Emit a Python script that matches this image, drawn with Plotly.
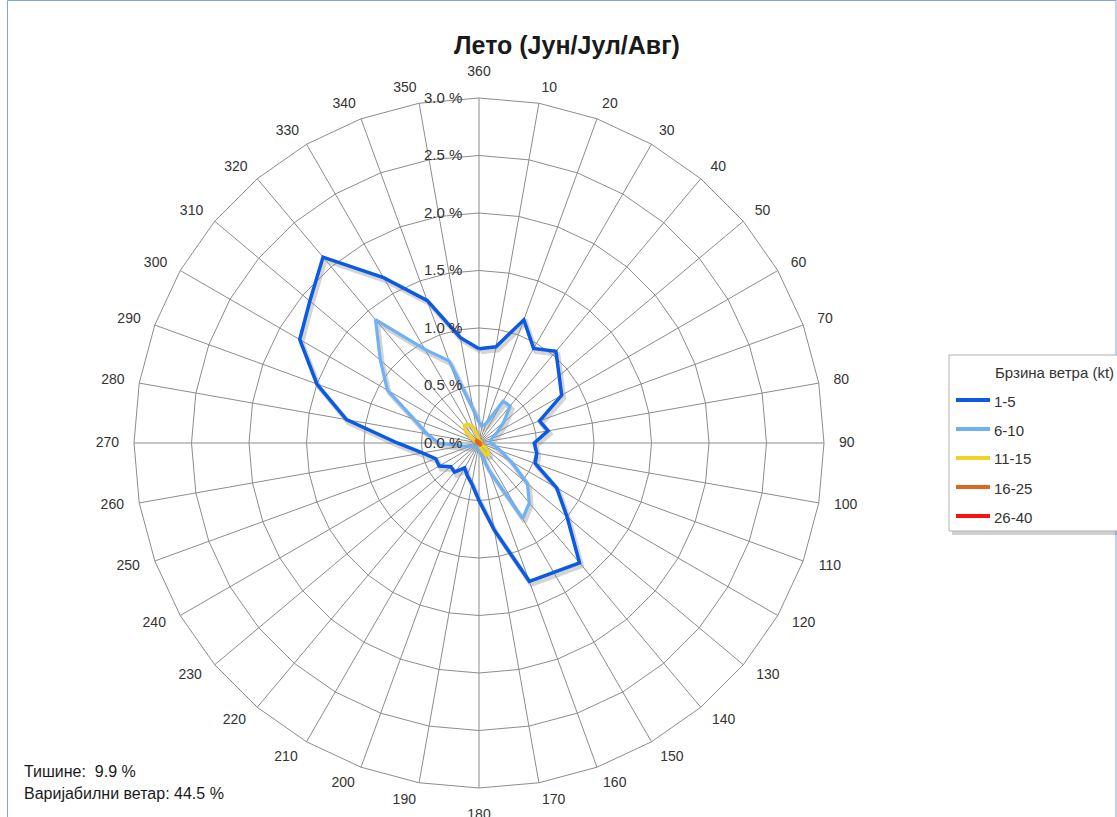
import math
import plotly.graph_objects as go

# ---------------- data ----------------
directions = ['360'] + [str(d) for d in range(10, 360, 10)]

speed_1_5 = [0.82, 0.85, 1.14, 0.95, 1.04, 0.91, 0.83, 0.56, 0.61, 0.48,
             0.51, 0.52, 0.78, 1.00, 1.36, 1.30, 1.28, 0.77, 0.50, 0.36,
             0.30, 0.25, 0.33, 0.32, 0.40, 0.40, 0.50, 0.71, 1.17, 1.50,
             1.80, 1.92, 2.11, 1.66, 1.32, 0.93]
speed_6_10 = [0.18, 0.15, 0.18, 0.42, 0.42, 0.28, 0.18, 0.12, 0.10, 0.10,
              0.14, 0.20, 0.32, 0.55, 0.68, 0.76, 0.25, 0.10, 0.06, 0.05,
              0.05, 0.05, 0.04, 0.05, 0.06, 0.08, 0.15, 0.35, 0.46, 0.60,
              0.92, 1.12, 1.40, 0.94, 0.76, 0.30]
speed_11_15 = [0.03, 0.02, 0.02, 0.02, 0.02, 0.02, 0.01, 0.01, 0.01, 0.01,
               0.01, 0.02, 0.04, 0.10, 0.13, 0.12, 0.05, 0.02, 0.01, 0.01,
               0.01, 0.01, 0.01, 0.01, 0.01, 0.01, 0.01, 0.01, 0.02, 0.03,
               0.06, 0.15, 0.20, 0.19, 0.15, 0.05]
speed_16_25 = [0.01, 0.01, 0.01, 0.01, 0.01, 0.01, 0.01, 0.01, 0.01, 0.01,
               0.01, 0.01, 0.01, 0.02, 0.02, 0.02, 0.01, 0.01, 0.01, 0.01,
               0.01, 0.01, 0.01, 0.01, 0.01, 0.01, 0.01, 0.01, 0.01, 0.02,
               0.02, 0.03, 0.03, 0.02, 0.01, 0.01]
speed_26_40 = [0.0] * 36

series_names = ['1-5', '6-10', '11-15', '16-25', '26-40']
series_values = [speed_1_5, speed_6_10, speed_11_15, speed_16_25, speed_26_40]
series_colors = ['#0A5AE6', '#6EB1F7', '#F0D326', '#E0661E', '#FF1010']
series_widths = [3.5, 3.2, 3.2, 3.2, 3.2]

radial_ticks = [0, 0.5, 1.0, 1.5, 2.0, 2.5, 3.0]
radial_labels = ['0.0 %', '0.5 %', '1.0 %', '1.5 %', '2.0 %', '2.5 %', '3.0 %']

title_text = 'Лето (Јун/Јул/Авг)'
legend_title = 'Брзина ветра (kt)'
note_calm = 'Тишине:  9.9 %'
note_var = 'Варијабилни ветар: 44.5 %'

# ---------------- layout geometry ----------------
W, H = 1117, 817
cx, cy, R = 479, 443, 345
RMAX = 3.0
R_LAB = 374                      # radius of the (invisible) label ring subplot
RMAX_LAB = RMAX * R_LAB / R
FONT = 'Liberation Sans'
TXT = '#333333'
LAB_SIZE = 14


def px(x):
    return x / W


def py(y):
    return 1 - y / H


fig = go.Figure()

closed_theta = directions + [directions[0]]

# soft drop shadows (offset subplot, drawn first)
for name, vals, w in zip(series_names, series_values, series_widths):
    fig.add_trace(go.Scatterpolar(
        r=vals + [vals[0]], theta=closed_theta, mode='lines',
        line=dict(color='rgba(60,60,60,0.22)', width=w + 1.5),
        subplot='polar', showlegend=False, hoverinfo='skip'))

# main series
for name, vals, col, w in zip(series_names, series_values, series_colors, series_widths):
    fig.add_trace(go.Scatterpolar(
        r=vals + [vals[0]], theta=closed_theta, mode='lines', name=name,
        line=dict(color=col, width=w), subplot='polar2', showlegend=False))

# direction labels around the rim, placed like the spreadsheet does:
# anchored just outside the rim and pushed sideways by half their width
lab_r, lab_t = [], []
for d in directions:
    t = int(d) % 360
    a = math.radians(t)
    s, c = math.sin(a), math.cos(a)
    hw = 0.556 * LAB_SIZE * len(d) / 2
    if t == 0:
        x, y = 0.0, 371.0
    elif t == 180:
        x, y = 0.0, -372.0
    else:
        rr = 360 + 3 * max(0.0, -c)
        x = rr * s + math.copysign(hw, s)
        y = rr * c
    dist = min(math.hypot(x, y), R_LAB - 0.5)
    lab_r.append(RMAX * dist / R)
    lab_t.append(math.degrees(math.atan2(x, y)) % 360)
fig.add_trace(go.Scatterpolar(
    r=lab_r, theta=lab_t, mode='text', text=directions,
    textposition='middle center', cliponaxis=False,
    textfont=dict(family=FONT, size=LAB_SIZE, color=TXT),
    subplot='polar3', showlegend=False, hoverinfo='skip'))

fig.update_layout(
    width=W, height=H,
    margin=dict(l=0, r=0, t=0, b=0),
    paper_bgcolor='white', plot_bgcolor='white',
    font=dict(family=FONT, size=14, color=TXT),
    title=dict(text=title_text, x=px(567), xanchor='center', y=py(45), yanchor='middle',
               font=dict(family=FONT, size=25, color='#1a1a1a', weight='bold')),
    polar=dict(
        domain=dict(x=[px(cx - R + 2), px(cx + R + 2)], y=[py(cy + R + 3), py(cy - R + 3)]),
        bgcolor='rgba(0,0,0,0)',
        angularaxis=dict(visible=False, type='category', categoryorder='array',
                         categoryarray=directions, direction='clockwise', rotation=90),
        radialaxis=dict(visible=False, range=[0, RMAX])),
    polar2=dict(
        domain=dict(x=[px(cx - R), px(cx + R)], y=[py(cy + R), py(cy - R)]),
        bgcolor='rgba(0,0,0,0)',
        gridshape='linear',
        angularaxis=dict(
            type='category', categoryorder='array', categoryarray=directions,
            direction='clockwise', rotation=90,
            showline=True, linecolor='#8c8c8c', linewidth=1,
            showgrid=True, gridcolor='#8c8c8c', gridwidth=1,
            ticks='', showticklabels=False),
        radialaxis=dict(
            range=[0, RMAX], angle=90, side='counterclockwise', tickangle=90,
            tickvals=radial_ticks, ticktext=radial_labels,
            showline=False, showgrid=True, gridcolor='#8c8c8c', gridwidth=1,
            ticks='outside', ticklen=11, tickcolor='rgba(0,0,0,0)',
            tickfont=dict(family=FONT, size=15, color=TXT))),
    polar3=dict(
        domain=dict(x=[px(cx - R_LAB), px(cx + R_LAB)], y=[max(0, py(cy + R_LAB)), py(cy - R_LAB)]),
        bgcolor='rgba(0,0,0,0)',
        angularaxis=dict(visible=False, type='linear', direction='clockwise', rotation=90),
        radialaxis=dict(visible=False, range=[0, RMAX_LAB])),
    showlegend=False,
)

# frame of the chart area
fig.add_shape(type='rect', xref='paper', yref='paper',
              x0=px(7.5), x1=px(1116), y0=py(830), y1=py(0.5),
              line=dict(color='#7FA5DD', width=1))

# ---------- legend (drawn as a boxed key) ----------
LX0, LY0, LX1, LY1 = 949, 355, 1130, 531
fig.add_shape(type='rect', xref='paper', yref='paper',
              x0=px(LX0 + 3), x1=px(LX1 + 3), y0=py(LY1 + 4), y1=py(LY0 + 4),
              line=dict(width=0), fillcolor='rgba(0,0,0,0.18)', layer='above')
fig.add_shape(type='rect', xref='paper', yref='paper',
              x0=px(LX0), x1=px(LX1), y0=py(LY1), y1=py(LY0),
              line=dict(color='#b0b0b0', width=1), fillcolor='white', layer='above')
fig.add_annotation(text=legend_title, xref='paper', yref='paper',
                   x=px(993), y=py(372), xanchor='left', yanchor='middle',
                   showarrow=False, font=dict(family=FONT, size=15, color=TXT))
item_y = [400, 429, 458, 487, 516]
for name, col, yy in zip(series_names, series_colors, item_y):
    fig.add_shape(type='line', xref='paper', yref='paper',
                  x0=px(956), x1=px(990), y0=py(yy), y1=py(yy),
                  line=dict(color=col, width=4), layer='above')
    fig.add_annotation(text=name, xref='paper', yref='paper',
                       x=px(992), y=py(yy + 1), xanchor='left', yanchor='middle',
                       showarrow=False, font=dict(family=FONT, size=15, color=TXT))

# ---------- notes ----------
fig.add_annotation(text=note_calm, xref='paper', yref='paper',
                   x=px(22), y=py(771), xanchor='left', yanchor='middle',
                   showarrow=False, font=dict(family=FONT, size=16, color='#1a1a1a'))
fig.add_annotation(text=note_var, xref='paper', yref='paper',
                   x=px(22), y=py(793), xanchor='left', yanchor='middle',
                   showarrow=False, font=dict(family=FONT, size=16, color='#1a1a1a'))

fig.write_html('out.html', config={'displayModeBar': False},
               post_script="document.body.style.margin='0';"
                           "document.body.style.overflow='hidden';")
